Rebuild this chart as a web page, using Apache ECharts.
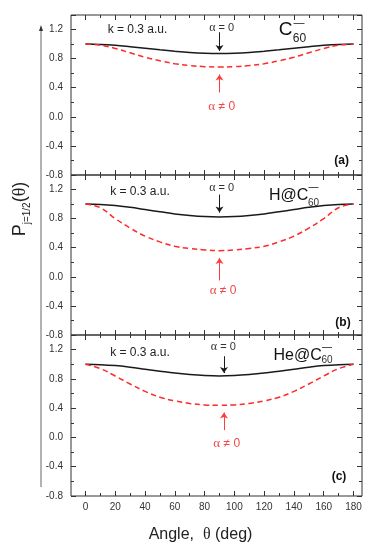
<!DOCTYPE html>
<html>
<head>
<meta charset="utf-8">
<script src="https://cdn.jsdelivr.net/npm/echarts@6/dist/echarts.min.js"></script>
<style>html,body{margin:0;padding:0;background:#fff}#c{width:373px;height:550px}</style>
</head>
<body>
<div id="c"></div>
<script>
const angles = [0,10,20,30,40,50,60,70,80,90,100,110,120,130,140,150,160,170,180];
const blackA = [1.000,0.996,0.984,0.965,0.944,0.922,0.902,0.885,0.874,0.870,0.874,0.885,0.902,0.922,0.944,0.965,0.984,0.996,1.000];
const redA   = [1.000,0.985,0.940,0.880,0.820,0.770,0.730,0.705,0.690,0.685,0.690,0.705,0.730,0.770,0.820,0.880,0.940,0.985,1.000];
const blackB = [1.000,0.995,0.980,0.955,0.925,0.895,0.865,0.843,0.828,0.823,0.828,0.843,0.865,0.895,0.925,0.955,0.980,0.995,1.000];
const redB   = [1.000,0.950,0.800,0.670,0.560,0.480,0.420,0.390,0.370,0.360,0.370,0.390,0.420,0.480,0.560,0.670,0.800,0.950,1.000];
const blackC = [1.000,0.995,0.982,0.960,0.933,0.906,0.880,0.860,0.846,0.840,0.846,0.860,0.880,0.906,0.933,0.960,0.982,0.995,1.000];
const redC   = [1.000,0.940,0.840,0.730,0.630,0.550,0.500,0.465,0.445,0.440,0.445,0.465,0.500,0.550,0.630,0.730,0.840,0.940,1.000];
const xTicks = [0,20,40,60,80,100,120,140,160,180];
const yTicks = [-0.8,-0.4,0.0,0.4,0.8,1.2];
const panelLabels = ['(a)','(b)','(c)'];
const targets = ['C', 'H@C', 'He@C'];

const pair = (xs, ys) => xs.map((x, i) => [x, ys[i]]);
const panels = [
  {black: blackA, red: redA, top: 15, h: 160, bArrow: [1.163, 0.905], rArrow: [0.335, 0.583], ax: 90},
  {black: blackB, red: redB, top: 175, h: 160, bArrow: [1.131, 0.883], rArrow: [-0.05, 0.26], ax: 90},
  {black: blackC, red: redC, top: 335, h: 161, bArrow: [1.11, 0.88], rArrow: [0.10, 0.34], ax: 93}
];

const FONT = '"Liberation Sans", Arial, sans-serif';
const SERIF = '"Liberation Serif", "DejaVu Serif", serif';
const axisCol = '#333';
const dataLeft = 85.5, dataRight = 373 - 353.5;
const frameLeft = 71, frameRight = 373 - 362;

const grid = [], xAxis = [], yAxis = [], series = [];
const tickCfg = {show: true, inside: true, length: 5, lineStyle: {color: axisCol}};
const minorCfg = {show: true, splitNumber: 2, length: 3, lineStyle: {color: axisCol}};
panels.forEach((p, i) => {
  grid.push({left: dataLeft, right: dataRight, top: p.top, height: p.h, show: false});
  const last = i === 2;
  xAxis.push({
    type: 'value', gridIndex: i, position: 'bottom', min: xTicks[0], max: xTicks[xTicks.length-1], interval: 20,
    axisLine: {show: false, onZero: false}, splitLine: {show: false},
    axisTick: tickCfg, minorTick: minorCfg,
    axisLabel: {show: last, color: axisCol, fontSize: 10, fontFamily: FONT, margin: 6}
  });
  xAxis.push({
    type: 'value', gridIndex: i, position: 'top', min: xTicks[0], max: xTicks[xTicks.length-1], interval: 20,
    axisLine: {show: false, onZero: false}, splitLine: {show: false},
    axisTick: tickCfg, minorTick: minorCfg,
    axisLabel: {show: false}
  });
  const yFmt = v => {
    const r = Math.round(v * 10);
    return (r % 4 === 0) ? (r / 10).toFixed(1) : '';
  };
  yAxis.push({
    type: 'value', gridIndex: i, position: 'left', offset: dataLeft - frameLeft, min: yTicks[0], max: 1.4, interval: 0.4,
    axisLine: {show: false, onZero: false}, splitLine: {show: false},
    axisTick: tickCfg, minorTick: minorCfg,
    axisLabel: {color: axisCol, fontSize: 10, fontFamily: FONT, margin: 8, formatter: yFmt, showMaxLabel: false}
  });
  yAxis.push({
    type: 'value', gridIndex: i, position: 'right', offset: dataRight - frameRight, min: yTicks[0], max: 1.4, interval: 0.4,
    axisLine: {show: false, onZero: false}, splitLine: {show: false},
    axisTick: tickCfg, minorTick: minorCfg,
    axisLabel: {show: false}
  });
  series.push({
    type: 'line', xAxisIndex: 2*i, yAxisIndex: 2*i, data: pair(angles, p.black), smooth: 0.4,
    showSymbol: false, silent: true, lineStyle: {color: '#1a1a1a', width: 1.5},
    markLine: {
      silent: true, symbol: ['none', 'arrow'], symbolSize: 6, label: {show: false},
      lineStyle: {color: '#1a1a1a', width: 1, type: 'solid'},
      data: [[{coord: [p.ax, p.bArrow[0]]}, {coord: [p.ax, p.bArrow[1]]}]]
    }
  });
  series.push({
    type: 'line', xAxisIndex: 2*i, yAxisIndex: 2*i, data: pair(angles, p.red), smooth: 0.4,
    showSymbol: false, silent: true, lineStyle: {color: '#ff2a2a', width: 1.5, type: [5.5, 3.5]},
    markLine: {
      silent: true, symbol: ['none', 'arrow'], symbolSize: 6, label: {show: false},
      lineStyle: {color: '#ff3b3b', width: 1, type: 'solid'},
      data: [[{coord: [p.ax, p.rArrow[0]]}, {coord: [p.ax, p.rArrow[1]]}]]
    }
  });
});
// frame grids
panels.forEach((p, i) => {
  grid.push({left: frameLeft, right: frameRight, top: p.top, height: p.h, show: true, borderColor: '#333', borderWidth: 1, backgroundColor: 'transparent'});
  xAxis.push({type: 'value', gridIndex: 3 + i, show: false, min: 0, max: 1});
  yAxis.push({type: 'value', gridIndex: 3 + i, show: false, min: 0, max: 1});
});

const txt = (x, y, text, style) => ({
  type: 'text', x: x, y: y, silent: true,
  style: Object.assign({text: text, fill: '#222', font: '11px ' + FONT, align: 'center', verticalAlign: 'middle'}, style || {})
});
const graphic = [];
const kPos = [[137.5, 29.5], [140, 192], [140, 352.3]];
const a0Pos = [[221.7, 28], [221.7, 187.5], [223.3, 347.3]];
const anPos = [[221.7, 106.7], [223, 290.7], [226.7, 444]];
const plPos = [[341.7, 160.5], [343, 322.7], [339, 476.7]];
for (let i = 0; i < 3; i++) {
  graphic.push(txt(kPos[i][0], kPos[i][1], 'k = 0.3 a.u.', {font: '12px ' + FONT, fill: '#222'}));
  graphic.push({type: 'text', x: a0Pos[i][0], y: a0Pos[i][1], silent: true, style: {
    text: '{g|α}{n| = 0}', align: 'center', verticalAlign: 'middle',
    rich: {g: {fontFamily: SERIF, fontSize: 12, fill: '#333'}, n: {fontFamily: FONT, fontSize: 11, fill: '#333'}}
  }});
  graphic.push({type: 'text', x: anPos[i][0], y: anPos[i][1], silent: true, style: {
    text: '{g|α}{n| ≠ 0}', align: 'center', verticalAlign: 'middle',
    rich: {g: {fontFamily: SERIF, fontSize: 13, fill: '#f24848'}, n: {fontFamily: FONT, fontSize: 12, fill: '#f24848'}}
  }});
  graphic.push(txt(plPos[i][0], plPos[i][1], panelLabels[i], {font: 'bold 12px ' + FONT, fill: '#111'}));
}
// molecule labels
graphic.push(txt(285.5, 29.5, targets[0], {font: '19px ' + FONT, fill: '#111'}));
graphic.push(txt(299, 23, '—', {font: '11px ' + FONT, fill: '#111'}));
graphic.push(txt(299.5, 38.5, '60', {font: '12px ' + FONT, fill: '#222'}));
graphic.push(txt(308.3, 196, targets[1], {font: '16px ' + FONT, fill: '#111', align: 'right'}));
graphic.push(txt(313.5, 187.5, '—', {font: '10px ' + FONT, fill: '#111'}));
graphic.push(txt(313.5, 203, '60', {font: '10px ' + FONT, fill: '#333'}));
graphic.push(txt(321.7, 356, targets[2], {font: '16px ' + FONT, fill: '#111', align: 'right'}));
graphic.push(txt(327, 347, '—', {font: '10px ' + FONT, fill: '#111'}));
graphic.push(txt(327, 360.5, '60', {font: '10px ' + FONT, fill: '#333'}));
// y title
graphic.push({type: 'text', x: 20, y: 209, rotation: Math.PI / 2, silent: true, style: {
  text: '{p|P}{s|j=1/2}{p|(}{t|θ}{p|)}', align: 'center', verticalAlign: 'middle',
  rich: {
    p: {fontFamily: FONT, fontSize: 18, fill: '#222', lineHeight: 24, verticalAlign: 'middle'},
    s: {fontFamily: FONT, fontSize: 10, fill: '#222', lineHeight: 24, verticalAlign: 'bottom', padding: [8, 0, 0, 0]},
    t: {fontFamily: SERIF, fontSize: 18, fill: '#222', lineHeight: 24, verticalAlign: 'middle'}
  }
}});
// x title
graphic.push({type: 'text', x: 200.5, y: 535, silent: true, style: {
  text: '{n|Angle,  }{t|θ}{n| (deg)}', align: 'center', verticalAlign: 'middle',
  rich: {n: {fontFamily: FONT, fontSize: 16, fill: '#222'}, t: {fontFamily: SERIF, fontSize: 16, fill: '#222'}}
}});
// vertical arrow line
graphic.push({type: 'line', silent: true, shape: {x1: 41, y1: 487, x2: 41, y2: 30}, style: {stroke: '#999', lineWidth: 1.5}});
graphic.push({type: 'polygon', silent: true, shape: {points: [[39, 31], [43, 31], [41, 25]]}, style: {fill: '#333'}});

const chart = echarts.init(document.getElementById('c'), null, {renderer: 'canvas'});
chart.setOption({animation: false, backgroundColor: '#fff', grid, xAxis, yAxis, series, graphic});
</script>
</body>
</html>
